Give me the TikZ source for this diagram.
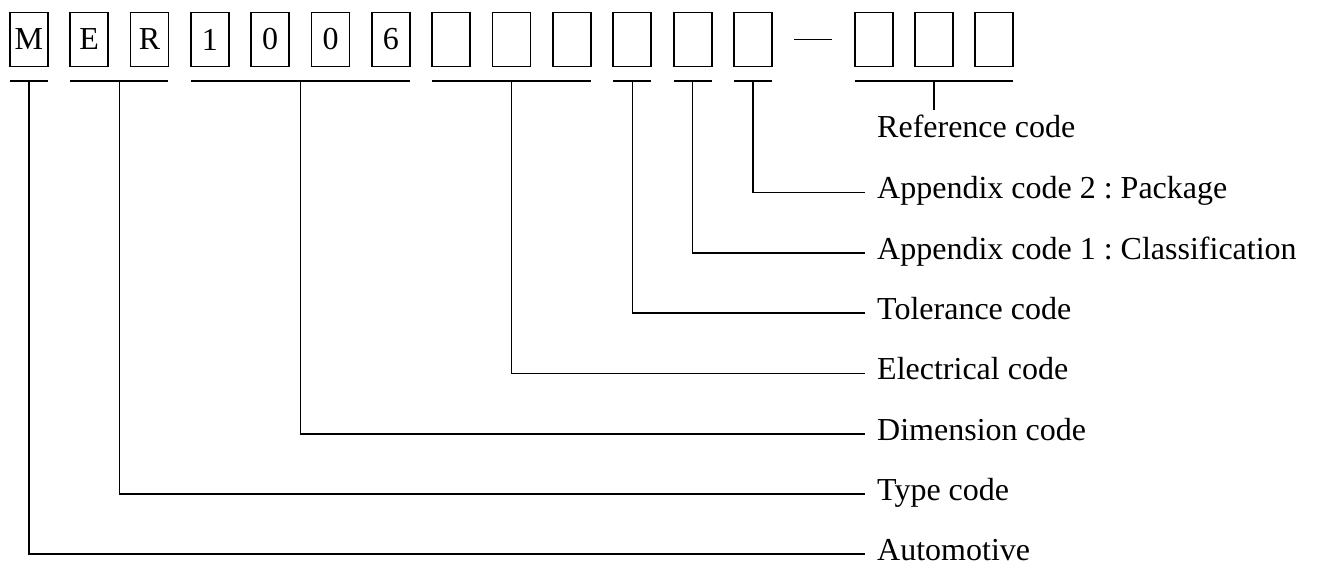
\documentclass[tikz,border=0pt]{standalone}
\usepackage{fontspec}
\setmainfont{Liberation Serif}
\usepackage{tikz}
\usetikzlibrary{positioning,calc}
\frenchspacing

\tikzset{
	codebox/.style={draw, line width=1.8pt, minimum width=38pt, minimum height=54pt, inner sep=0pt, outer sep=0pt, font=\fontsize{32}{38}\selectfont},
	codeline/.style={line width=1.5pt},
	codelabel/.style={anchor=west, inner sep=4pt, text height=21pt, text depth=9pt, font=\fontsize{32}{38}\selectfont}
}

\begin{document}
\begin{tikzpicture}[x=1pt,y=1pt]
			\useasboundingbox (0,0) rectangle (1318,-562);
			% the code boxes
			\node[codebox] (b0) at (28.75,-39.5) {M};
			\node[codebox, right=22.35pt of b0] (b1) {E};
			\node[codebox, right=22.35pt of b1] (b2) {R};
			\node[codebox, right=22.35pt of b2] (b3) {1};
			\node[codebox, right=22.35pt of b3] (b4) {0};
			\node[codebox, right=22.35pt of b4] (b5) {0};
			\node[codebox, right=22.35pt of b5] (b6) {6};
			\node[codebox, right=22.35pt of b6] (b7) {};
			\node[codebox, right=22.35pt of b7] (b8) {};
			\node[codebox, right=22.35pt of b8] (b9) {};
			\node[codebox, right=22.35pt of b9] (b10) {};
			\node[codebox, right=22.35pt of b10] (b11) {};
			\node[codebox, right=22.35pt of b11] (b12) {};
			\node[codebox, draw=none, right=22.35pt of b12] (b13) {};
			\node[codebox, right=22.35pt of b13] (b14) {};
			\node[codebox, right=22.35pt of b14] (b15) {};
			\node[codebox, right=22.35pt of b15] (b16) {};
			\draw[codeline] (b13.west) -- (b13.east);
			% the labels
			\node[codelabel] (refc) at (873,-131) {Reference code};
			\node[codelabel] (app2) at (873,-192.5) {Appendix code 2 : Package};
			\node[codelabel] (app1) at (873,-253) {Appendix code 1 : Classification};
			\node[codelabel] (tol) at (873,-313) {Tolerance code};
			\node[codelabel] (elec) at (873,-373.5) {Electrical code};
			\node[codelabel] (dim) at (873,-434) {Dimension code};
			\node[codelabel] (type) at (873,-494) {Type code};
			\node[codelabel, inner ysep=0pt, text height=12pt, text depth=0pt] (auto) at (873,-554) {Automotive};
			% underlines
			\draw[codeline] ([yshift=-14.5pt]b0.south west) -- ([yshift=-14.5pt]b0.south east);
			\draw[codeline] ([yshift=-14.5pt]b1.south west) -- ([yshift=-14.5pt]b2.south east);
			\draw[codeline] ([yshift=-14.5pt]b3.south west) -- ([yshift=-14.5pt]b6.south east);
			\draw[codeline] ([yshift=-14.5pt]b7.south west) -- ([yshift=-14.5pt]b9.south east);
			\draw[codeline] ([yshift=-14.5pt]b10.south west) -- ([yshift=-14.5pt]b10.south east);
			\draw[codeline] ([yshift=-14.5pt]b11.south west) -- ([yshift=-14.5pt]b11.south east);
			\draw[codeline] ([yshift=-14.5pt]b12.south west) -- ([yshift=-14.5pt]b12.south east);
			\draw[codeline] ([yshift=-14.5pt]b14.south west) -- ([yshift=-14.5pt]b16.south east);
			% group middles
			\coordinate (mM) at ([yshift=-14.5pt]b0.south);
			\coordinate (mER) at ($(b1.south)!.5!(b2.south)+(0,-14.5)$);
			\coordinate (mDim) at ($(b3.south)!.5!(b6.south)+(0,-14.5)$);
			\coordinate (mElec) at ([yshift=-14.5pt]b8.south);
			\coordinate (mTol) at ([yshift=-14.5pt]b10.south);
			\coordinate (mApp1) at ([yshift=-14.5pt]b11.south);
			\coordinate (mApp2) at ([yshift=-14.5pt]b12.south);
			\coordinate (mRef) at ([yshift=-14.5pt]b15.south);
			% leaders
			\draw[codeline, shorten >=2pt] (mRef) -- (mRef |- refc.north);
			\draw[codeline, shorten >=8pt] (mApp2) |- (app2.west);
			\draw[codeline, shorten >=8pt] (mApp1) |- (app1.west);
			\draw[codeline, shorten >=8pt] (mTol) |- (tol.west);
			\draw[codeline, shorten >=8pt] (mElec) |- (elec.west);
			\draw[codeline, shorten >=8pt] (mDim) |- (dim.west);
			\draw[codeline, shorten >=8pt] (mER) |- (type.west);
			\draw[codeline, shorten >=8pt] (mM) |- (auto.west);
\end{tikzpicture}
\end{document}
